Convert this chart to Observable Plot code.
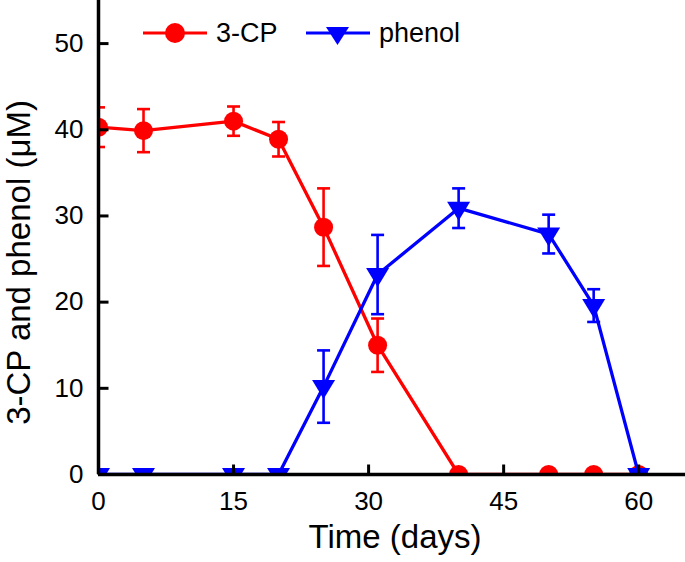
<!DOCTYPE html>
<html lang="en">
<head>
<meta charset="UTF-8">
<title>3-CP and phenol over time</title>
<script src="https://cdn.jsdelivr.net/npm/d3@7"></script>
<script src="https://cdn.jsdelivr.net/npm/@observablehq/plot@0.6"></script>
<style>
  body { margin: 0; background: #fff; }
  #wrap { position: relative; width: 685px; height: 562px; font-family: "Liberation Sans", Arial, sans-serif; }
  #legend { position: absolute; left: 0; top: 0; }
</style>
</head>
<body>
<div id="wrap">
  <div id="chart"></div>
  <svg id="legend" width="685" height="60"></svg>
</div>
<script>
// sampling days
const days = [0, 5, 15, 20, 25, 31, 40, 50, 55, 60];
// 3-CP (µM) and its error
const cp = [40.3, 39.9, 41.0, 38.9, 28.7, 15.0, 0, 0, 0, 0];
const cpErr = [2.3, 2.5, 1.7, 2.0, 4.5, 3.1, 0, 0, 0, 0];
// phenol (µM) and its error
const phenol = [0, 0, 0, 0, 10.2, 23.2, 30.9, 27.9, 19.6, 0];
const phenolErr = [0, 0, 0, 0, 4.2, 4.6, 2.3, 2.25, 1.9, 0];

const seriesNames = ["3-CP", "phenol"];
const seriesColors = ["#ff0000", "#0000ff"];
const xTicks = [0, 15, 30, 45, 60];
const yTicks = [0, 10, 20, 30, 40, 50];
const xLabel = "Time (days)";
const yLabel = "3-CP and phenol (\u03bcM)";

const cpRows = days.map((d, i) => ({day: d, v: cp[i], e: cpErr[i]}));
const phRows = days.map((d, i) => ({day: d, v: phenol[i], e: phenolErr[i]}));

// small custom symbols (error caps, down triangle, inward ticks)
const capSym = {draw(ctx) { ctx.moveTo(-6.5, 0); ctx.lineTo(6.5, 0); }};
const downTri = {draw(ctx) { ctx.moveTo(-11.5, -6.5); ctx.lineTo(11.5, -6.5); ctx.lineTo(0, 12.5); ctx.closePath(); }};
const yTickSym = {draw(ctx) { ctx.moveTo(0, 0); ctx.lineTo(10, 0); }};
const xTickSym = {draw(ctx) { ctx.moveTo(0, 0); ctx.lineTo(0, -10); }};

function seriesMarks(rows, color, symbol, r) {
  const withErr = rows.filter(d => d.e > 0);
  const caps = withErr.flatMap(d => [{day: d.day, y: d.v - d.e}, {day: d.day, y: d.v + d.e}]);
  return [
    Plot.line(rows, {x: "day", y: "v", stroke: color, strokeWidth: 3.3, clip: true}),
    Plot.ruleX(withErr, {x: "day", y1: d => d.v - d.e, y2: d => d.v + d.e, stroke: color, strokeWidth: 2.6, clip: true}),
    Plot.dot(caps, {x: "day", y: "y", symbol: capSym, fill: "none", stroke: color, strokeWidth: 2.6, clip: true}),
    Plot.dot(rows, {x: "day", y: "v", symbol, r, fill: color, stroke: "none", clip: true})
  ];
}

const plot = Plot.plot({
  width: 685,
  height: 562,
  marginLeft: 98,
  marginRight: 0,
  marginTop: 0,
  marginBottom: 88,
  style: {fontFamily: '"Liberation Sans", Arial, sans-serif', fontSize: "26px", color: "#000", background: "#fff"},
  x: {domain: [0, 65.2]},
  y: {domain: [0, 55]},
  marks: [
    ...seriesMarks(cpRows, seriesColors[0], "circle", 9.5),
    ...seriesMarks(phRows, seriesColors[1], downTri, 9),
    Plot.ruleX([0], {stroke: "#000", strokeWidth: 3.5}),
    Plot.ruleY([0], {stroke: "#000", strokeWidth: 3.5}),
    Plot.dot(yTicks, {x: 0, y: d => d, symbol: yTickSym, stroke: "#000", strokeWidth: 3}),
    Plot.dot(xTicks, {x: d => d, y: 0, symbol: xTickSym, stroke: "#000", strokeWidth: 3}),
    Plot.axisY({ticks: yTicks, tickSize: 0, tickPadding: 15, label: null, fontSize: 26}),
    Plot.axisX({ticks: xTicks, tickSize: 0, tickPadding: 17, label: null, fontSize: 26}),
    Plot.text([yLabel], {frameAnchor: "left", textAnchor: "middle", text: d => d, rotate: -90, dx: -79, dy: 25, fontSize: 33}),
    Plot.text([xLabel], {frameAnchor: "bottom", textAnchor: "middle", text: d => d, dx: 3, dy: 73, fontSize: 33})
  ]
});
document.getElementById("chart").replaceChildren(plot);

// legend sits inside the plot area, top-left
const lg = d3.select("#legend");
const legendItems = [
  {name: seriesNames[0], color: seriesColors[0], x: 143, marker: "circle"},
  {name: seriesNames[1], color: seriesColors[1], x: 306, marker: "tri"}
];
legendItems.forEach(it => {
  const g = lg.append("g").attr("transform", `translate(${it.x},33)`);
  g.append("line").attr("x1", 0).attr("x2", 64).attr("stroke", it.color).attr("stroke-width", 3);
  if (it.marker === "circle") g.append("circle").attr("cx", 32).attr("r", 10).attr("fill", it.color);
  else g.append("path").attr("d", "M20,-6L43,-6L31.5,12Z").attr("fill", it.color);
  g.append("text").attr("x", 73).attr("dy", "0.35em").attr("font-size", 27).attr("fill", "#000").text(it.name);
});
</script>
</body>
</html>
